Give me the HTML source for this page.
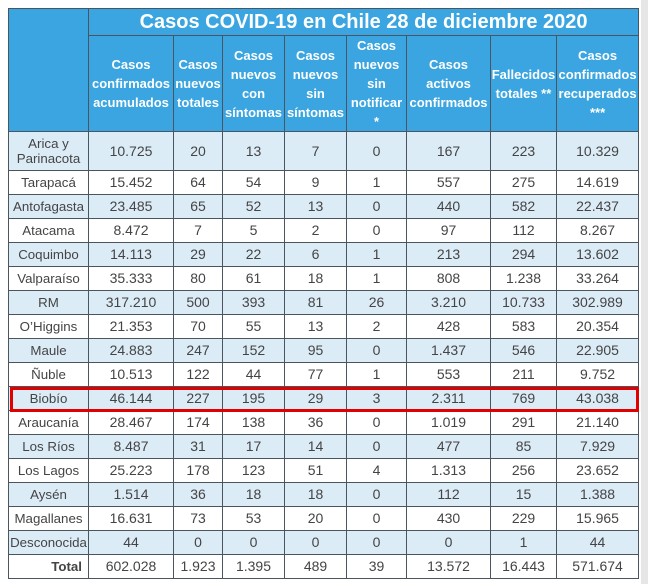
<!DOCTYPE html><html><head><meta charset="utf-8"><style>
body{margin:0;width:648px;height:584px;background:#fff;position:relative;overflow:hidden;font-family:"Liberation Sans",sans-serif}
.strip{position:absolute;left:641px;top:0;width:7px;height:584px;background:#e6e6e6}
table{position:absolute;left:8px;top:8px;border-collapse:collapse;table-layout:fixed;width:631px;font-size:14px;color:#444}
td,th{border:1px solid #4a5560;text-align:center;padding:0;line-height:15px;overflow:visible;white-space:nowrap}
td:first-child{font-size:13.3px}
th{background:#3aa5e0;color:#fff;font-size:13px;font-weight:bold;line-height:19px;white-space:normal}
th.t{font-size:20px;height:26px;line-height:24px}
tr.d td{height:23px}
tr.b td{background:#dcecf7}
.red{position:absolute;left:10px;top:387px;width:623px;height:19px;border:3px solid #e00000}
</style></head><body>
<div class="strip"></div>
<table>
<colgroup><col style="width:80px"><col style="width:85px"><col style="width:49px"><col style="width:62px"><col style="width:62px"><col style="width:60px"><col style="width:84px"><col style="width:66px"><col style="width:82px"></colgroup>
<tr><th rowspan="2"></th><th colspan="8" class="t">Casos COVID-19 en Chile 28 de diciembre 2020</th></tr>
<tr style="height:95px"><th>Casos confirmados acumulados</th><th>Casos nuevos totales</th><th>Casos nuevos con síntomas</th><th>Casos nuevos sin síntomas</th><th>Casos nuevos sin notificar *</th><th>Casos activos confirmados</th><th>Fallecidos totales **</th><th>Casos confirmados recuperados ***</th></tr>
<tr class="b"><td style="height:38px;white-space:normal">Arica y Parinacota</td><td>10.725</td><td>20</td><td>13</td><td>7</td><td>0</td><td>167</td><td>223</td><td>10.329</td></tr>
<tr class="d"><td>Tarapacá</td><td>15.452</td><td>64</td><td>54</td><td>9</td><td>1</td><td>557</td><td>275</td><td>14.619</td></tr>
<tr class="d b"><td>Antofagasta</td><td>23.485</td><td>65</td><td>52</td><td>13</td><td>0</td><td>440</td><td>582</td><td>22.437</td></tr>
<tr class="d"><td>Atacama</td><td>8.472</td><td>7</td><td>5</td><td>2</td><td>0</td><td>97</td><td>112</td><td>8.267</td></tr>
<tr class="d b"><td>Coquimbo</td><td>14.113</td><td>29</td><td>22</td><td>6</td><td>1</td><td>213</td><td>294</td><td>13.602</td></tr>
<tr class="d"><td>Valparaíso</td><td>35.333</td><td>80</td><td>61</td><td>18</td><td>1</td><td>808</td><td>1.238</td><td>33.264</td></tr>
<tr class="d b"><td>RM</td><td>317.210</td><td>500</td><td>393</td><td>81</td><td>26</td><td>3.210</td><td>10.733</td><td>302.989</td></tr>
<tr class="d"><td>O’Higgins</td><td>21.353</td><td>70</td><td>55</td><td>13</td><td>2</td><td>428</td><td>583</td><td>20.354</td></tr>
<tr class="d b"><td>Maule</td><td>24.883</td><td>247</td><td>152</td><td>95</td><td>0</td><td>1.437</td><td>546</td><td>22.905</td></tr>
<tr class="d"><td>Ñuble</td><td>10.513</td><td>122</td><td>44</td><td>77</td><td>1</td><td>553</td><td>211</td><td>9.752</td></tr>
<tr class="d b"><td>Biobío</td><td>46.144</td><td>227</td><td>195</td><td>29</td><td>3</td><td>2.311</td><td>769</td><td>43.038</td></tr>
<tr class="d"><td>Araucanía</td><td>28.467</td><td>174</td><td>138</td><td>36</td><td>0</td><td>1.019</td><td>291</td><td>21.140</td></tr>
<tr class="d b"><td>Los Ríos</td><td>8.487</td><td>31</td><td>17</td><td>14</td><td>0</td><td>477</td><td>85</td><td>7.929</td></tr>
<tr class="d"><td>Los Lagos</td><td>25.223</td><td>178</td><td>123</td><td>51</td><td>4</td><td>1.313</td><td>256</td><td>23.652</td></tr>
<tr class="d b"><td>Aysén</td><td>1.514</td><td>36</td><td>18</td><td>18</td><td>0</td><td>112</td><td>15</td><td>1.388</td></tr>
<tr class="d"><td>Magallanes</td><td>16.631</td><td>73</td><td>53</td><td>20</td><td>0</td><td>430</td><td>229</td><td>15.965</td></tr>
<tr class="d b"><td>Desconocida</td><td>44</td><td>0</td><td>0</td><td>0</td><td>0</td><td>0</td><td>1</td><td>44</td></tr>
<tr class="d"><td style="text-align:right;padding-right:6px;font-weight:bold">Total</td><td>602.028</td><td>1.923</td><td>1.395</td><td>489</td><td>39</td><td>13.572</td><td>16.443</td><td>571.674</td></tr>
</table>
<div class="red"></div>
</body></html>
